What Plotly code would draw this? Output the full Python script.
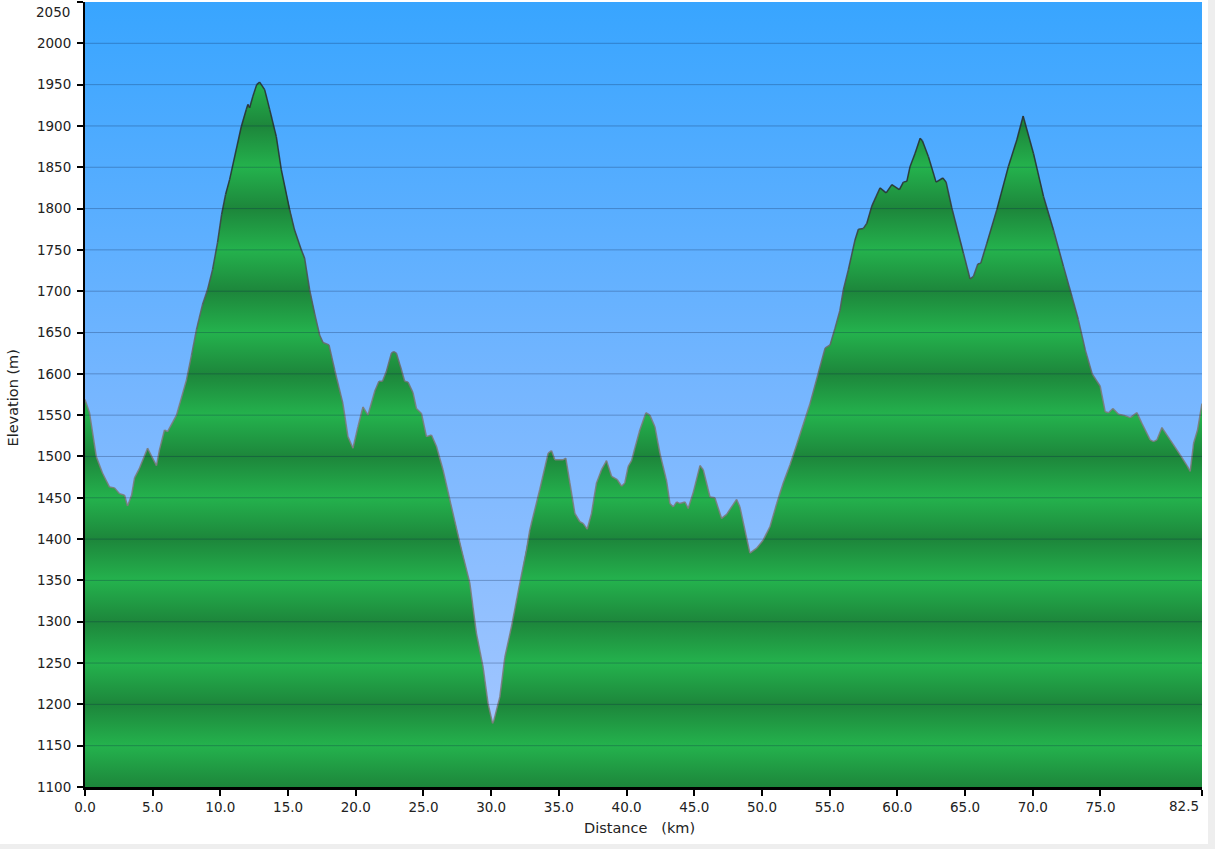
import plotly.graph_objects as go

# ---- data ----
distance_km = [0.0, 0.33, 0.83, 1.29, 1.81, 2.18, 2.55, 2.92, 3.14, 3.44, 3.66, 4.03, 4.62, 4.99,
               5.28, 5.50, 5.87, 6.10, 6.76, 7.50, 7.87, 8.24, 8.68, 9.05, 9.42, 9.79, 10.09, 10.38,
               10.68, 11.54, 11.91, 12.03, 12.16, 12.40, 12.68, 12.90, 13.27, 13.64, 14.13, 14.50,
               15.11, 15.48, 15.98, 16.22, 16.59, 16.96, 17.33, 17.58, 18.02, 18.44, 19.05, 19.42,
               19.79, 20.16, 20.53, 20.90, 21.40, 21.71, 21.97, 22.26, 22.63, 22.80, 23.00, 23.37,
               23.61, 23.86, 24.23, 24.48, 24.85, 25.22, 25.59, 25.96, 26.44, 27.01, 27.38, 27.81,
               28.42, 28.91, 29.40, 29.77, 30.10, 30.19, 30.64, 31.01, 31.50, 32.12, 32.61, 32.85,
               33.59, 34.21, 34.46, 34.70, 35.31, 35.51, 35.81, 36.18, 36.55, 36.79, 37.09, 37.41,
               37.78, 38.15, 38.52, 38.89, 39.31, 39.63, 39.87, 40.12, 40.37, 40.61, 40.98, 41.43,
               41.72, 42.09, 42.46, 42.96, 43.20, 43.45, 43.70, 43.94, 44.31, 44.55, 44.92, 45.42,
               45.66, 46.16, 46.52, 47.02, 47.39, 48.13, 48.37, 49.11, 49.61, 50.10, 50.59, 51.09,
               51.57, 52.07, 52.60, 53.55, 54.16, 54.66, 55.03, 55.39, 55.76, 56.01, 56.38, 56.87,
               57.12, 57.49, 57.74, 58.11, 58.72, 59.17, 59.59, 60.15, 60.44, 60.70, 60.94, 61.31,
               61.68, 61.85, 62.29, 62.86, 63.36, 63.60, 64.02, 64.88, 65.37, 65.62, 65.94, 66.16,
               66.61, 67.35, 68.20, 68.82, 69.29, 70.05, 70.79, 71.53, 72.27, 72.89, 73.36, 73.88,
               74.39, 74.98, 75.35, 75.60, 75.92, 76.33, 76.70, 77.20, 77.69, 78.06, 78.67, 78.92,
               79.17, 79.54, 80.15, 80.89, 81.39, 81.63, 81.88, 82.17, 82.50]
elevation_m = [1569, 1553, 1500, 1480, 1463, 1462, 1455, 1453, 1440, 1453, 1474, 1486, 1510, 1498,
               1489, 1508, 1532, 1530, 1550, 1593, 1623, 1654, 1684, 1702, 1726, 1759, 1793, 1817,
               1835, 1899, 1920, 1926, 1922, 1936, 1950, 1953, 1944, 1920, 1887, 1847,
               1799, 1774, 1750, 1740, 1702, 1673, 1647, 1638, 1635, 1605, 1564, 1524,
               1510, 1536, 1560, 1550, 1579, 1591, 1591, 1603, 1625, 1627, 1625, 1605,
               1591, 1590, 1577, 1558, 1552, 1524, 1526, 1512, 1484, 1443, 1417, 1387,
               1347, 1286, 1245, 1201, 1177, 1180, 1209, 1257, 1294, 1347, 1387, 1411,
               1460, 1504, 1507, 1496, 1496, 1498, 1468, 1431, 1421, 1419, 1412, 1431,
               1468, 1484, 1495, 1476, 1472, 1464, 1468, 1488, 1495, 1510, 1532, 1553,
               1550, 1536, 1504, 1470, 1443, 1439, 1445, 1443, 1445, 1437, 1456, 1489,
               1484, 1451, 1450, 1425, 1430, 1448, 1439, 1383, 1389, 1399, 1415, 1443,
               1468, 1490, 1516, 1564, 1601, 1631, 1635, 1655, 1677, 1702, 1726, 1762,
               1775, 1776, 1782, 1803, 1825, 1819, 1829, 1823, 1832, 1833, 1851, 1867,
               1885, 1882, 1863, 1832, 1837, 1832, 1801, 1746, 1715, 1718, 1733, 1734,
               1758, 1799, 1851, 1883, 1912, 1867, 1815, 1774, 1730, 1694, 1666, 1629,
               1600, 1585, 1554, 1553, 1558, 1551, 1550, 1547, 1553, 1540, 1520, 1518,
               1520, 1535, 1520, 1502, 1489, 1482, 1516, 1532, 1564]

x_tick_vals = [0, 5, 10, 15, 20, 25, 30, 35, 40, 45, 50, 55, 60, 65, 70, 75, 82.5]
x_tick_text = ["0.0", "5.0", "10.0", "15.0", "20.0", "25.0", "30.0", "35.0", "40.0", "45.0",
               "50.0", "55.0", "60.0", "65.0", "70.0", "75.0", "82.5"]
y_tick_vals = list(range(1100, 2051, 50))
x_title = "Distance   (km)"
y_title = "Elevation (m)"

X_MIN, X_MAX = 0, 82.5
Y_MIN, Y_MAX = 1100, 2050

# ---- styling ----
W, H = 1215, 849
ML, MR, MT, MB = 85, 13, 2, 62
FONT = "DejaVu Sans, Verdana, sans-serif"
TXT = "#222222"
TICK_SIZE = 13.5
TITLE_SIZE = 14.5

# green banded gradient: dark at multiples of 100 m, light at odd 50s
DARK = "rgb(29,134,59)"
LIGHT = "rgb(36,178,77)"
band_start, band_stop = 1100, 2100
n_bands = (band_stop - band_start) // 50
green_scale = [[k / n_bands, DARK if k % 2 == 0 else LIGHT] for k in range(n_bands + 1)]

fig = go.Figure()

# sky gradient background
fig.add_trace(go.Scatter(
    x=[X_MIN, X_MAX], y=[Y_MAX, Y_MAX], mode="lines", line=dict(width=0),
    fill="tozeroy",
    fillgradient=dict(type="vertical", start=Y_MIN, stop=Y_MAX,
                      colorscale=[[0, "rgb(168,200,255)"], [0.5, "rgb(118,182,255)"],
                                  [1, "rgb(56,165,255)"]]),
    hoverinfo="skip", showlegend=False))

# elevation profile fill
fig.add_trace(go.Scatter(
    x=distance_km, y=elevation_m, mode="lines", line=dict(width=0),
    fill="tozeroy",
    fillgradient=dict(type="vertical", start=band_start, stop=band_stop, colorscale=green_scale),
    hoverinfo="skip", showlegend=False))

# outline: grey in the low parts, nearly black on the high parts
N_LEVELS = 10
LOW_C, HIGH_C = (128, 128, 128), (38, 46, 46)
E_LOW, E_HIGH = 1550, 1850
groups = {k: ([], []) for k in range(N_LEVELS)}
for i in range(len(distance_km) - 1):
    e = 0.5 * (elevation_m[i] + elevation_m[i + 1])
    t = min(1.0, max(0.0, (e - E_LOW) / (E_HIGH - E_LOW)))
    k = min(N_LEVELS - 1, int(t * N_LEVELS))
    gx, gy = groups[k]
    gx += [distance_km[i], distance_km[i + 1], None]
    gy += [elevation_m[i], elevation_m[i + 1], None]
for k, (gx, gy) in groups.items():
    if not gx:
        continue
    t = (k + 0.5) / N_LEVELS
    c = tuple(round(LOW_C[j] + (HIGH_C[j] - LOW_C[j]) * t) for j in range(3))
    fig.add_trace(go.Scatter(x=gx, y=gy, mode="lines",
                             line=dict(color="rgba(%d,%d,%d,0.9)" % c, width=1.5),
                             connectgaps=False, hoverinfo="skip", showlegend=False))

shapes = []
for v in y_tick_vals[1:-1]:
    shapes.append(dict(type="line", xref="x", yref="y", x0=X_MIN, x1=X_MAX, y0=v, y1=v,
                       line=dict(color="rgba(10,30,70,0.28)", width=1), layer="above"))

# light grey page border (right and bottom)
pw = W - ML - MR
ph = H - MT - MB
shapes.append(dict(type="rect", xref="paper", yref="paper",
                   x0=(1208 - ML) / pw, x1=(W + 5 - ML) / pw,
                   y0=-(H + 5 - MT - ph) / ph, y1=(ph + MT + 5) / ph,
                   fillcolor="#eeeeee", line=dict(width=0), layer="below"))
shapes.append(dict(type="rect", xref="paper", yref="paper",
                   x0=-(ML + 5) / pw, x1=(W + 5 - ML) / pw,
                   y0=-(H + 5 - MT - ph) / ph, y1=-(844 - MT - ph) / ph,
                   fillcolor="#eeeeee", line=dict(width=0), layer="below"))

# edge tick labels are nudged inward (as in the reference), titles placed explicitly
x_text_axis = [t if v != X_MAX else "" for v, t in zip(x_tick_vals, x_tick_text)]
y_text_axis = [str(v) if v != Y_MAX else "" for v in y_tick_vals]
annotations = [
    dict(text=x_tick_text[-1], x=X_MAX, xref="x", y=0, yref="paper", xanchor="right",
         yanchor="top", xshift=-1, yshift=-9, showarrow=False,
         font=dict(size=TICK_SIZE, family=FONT, color=TXT)),
    dict(text=str(Y_MAX), x=0, xref="paper", y=Y_MAX, yref="y", xanchor="right",
         yanchor="top", xshift=-13, yshift=0, showarrow=False,
         font=dict(size=TICK_SIZE, family=FONT, color=TXT)),
    dict(text=x_title, x=0.5, xref="paper", y=0, yref="paper", xanchor="center",
         yanchor="middle", xshift=-4, yshift=-41, showarrow=False,
         font=dict(size=TITLE_SIZE, family=FONT, color=TXT)),
    dict(text=y_title, x=0, xref="paper", y=0.5, yref="paper", xanchor="center",
         yanchor="middle", xshift=-73, yshift=-4, textangle=-90, showarrow=False,
         font=dict(size=TITLE_SIZE, family=FONT, color=TXT)),
]

fig.update_layout(
    width=W, height=H,
    margin=dict(l=ML, r=MR, t=MT, b=MB, pad=0, autoexpand=False),
    paper_bgcolor="white", plot_bgcolor="white",
    font=dict(family=FONT, size=13, color=TXT),
    shapes=shapes,
    annotations=annotations,
    xaxis=dict(range=[X_MIN, X_MAX], tickvals=x_tick_vals, ticktext=x_text_axis,
               showgrid=False, zeroline=False, showline=True, linecolor="black", linewidth=3,
               ticks="outside", ticklen=6, tickwidth=2, tickcolor="black",
               tickfont=dict(size=TICK_SIZE, family=FONT, color=TXT),
               ticklabeloverflow="allow", automargin=False,
               layer="above traces", fixedrange=True),
    yaxis=dict(range=[Y_MIN, Y_MAX], tickvals=y_tick_vals, ticktext=y_text_axis,
               showgrid=False, zeroline=False, showline=True, linecolor="black", linewidth=2,
               ticks="outside", ticklen=6, tickwidth=2, tickcolor="black",
               tickfont=dict(size=TICK_SIZE, family=FONT, color=TXT),
               ticklabelstandoff=3,
               ticklabeloverflow="allow", automargin=False,
               layer="above traces", fixedrange=True),
)

fig.write_html("out.html", config={"displayModeBar": False},
               post_script="document.body.style.margin='0';document.body.style.overflow='hidden';")
